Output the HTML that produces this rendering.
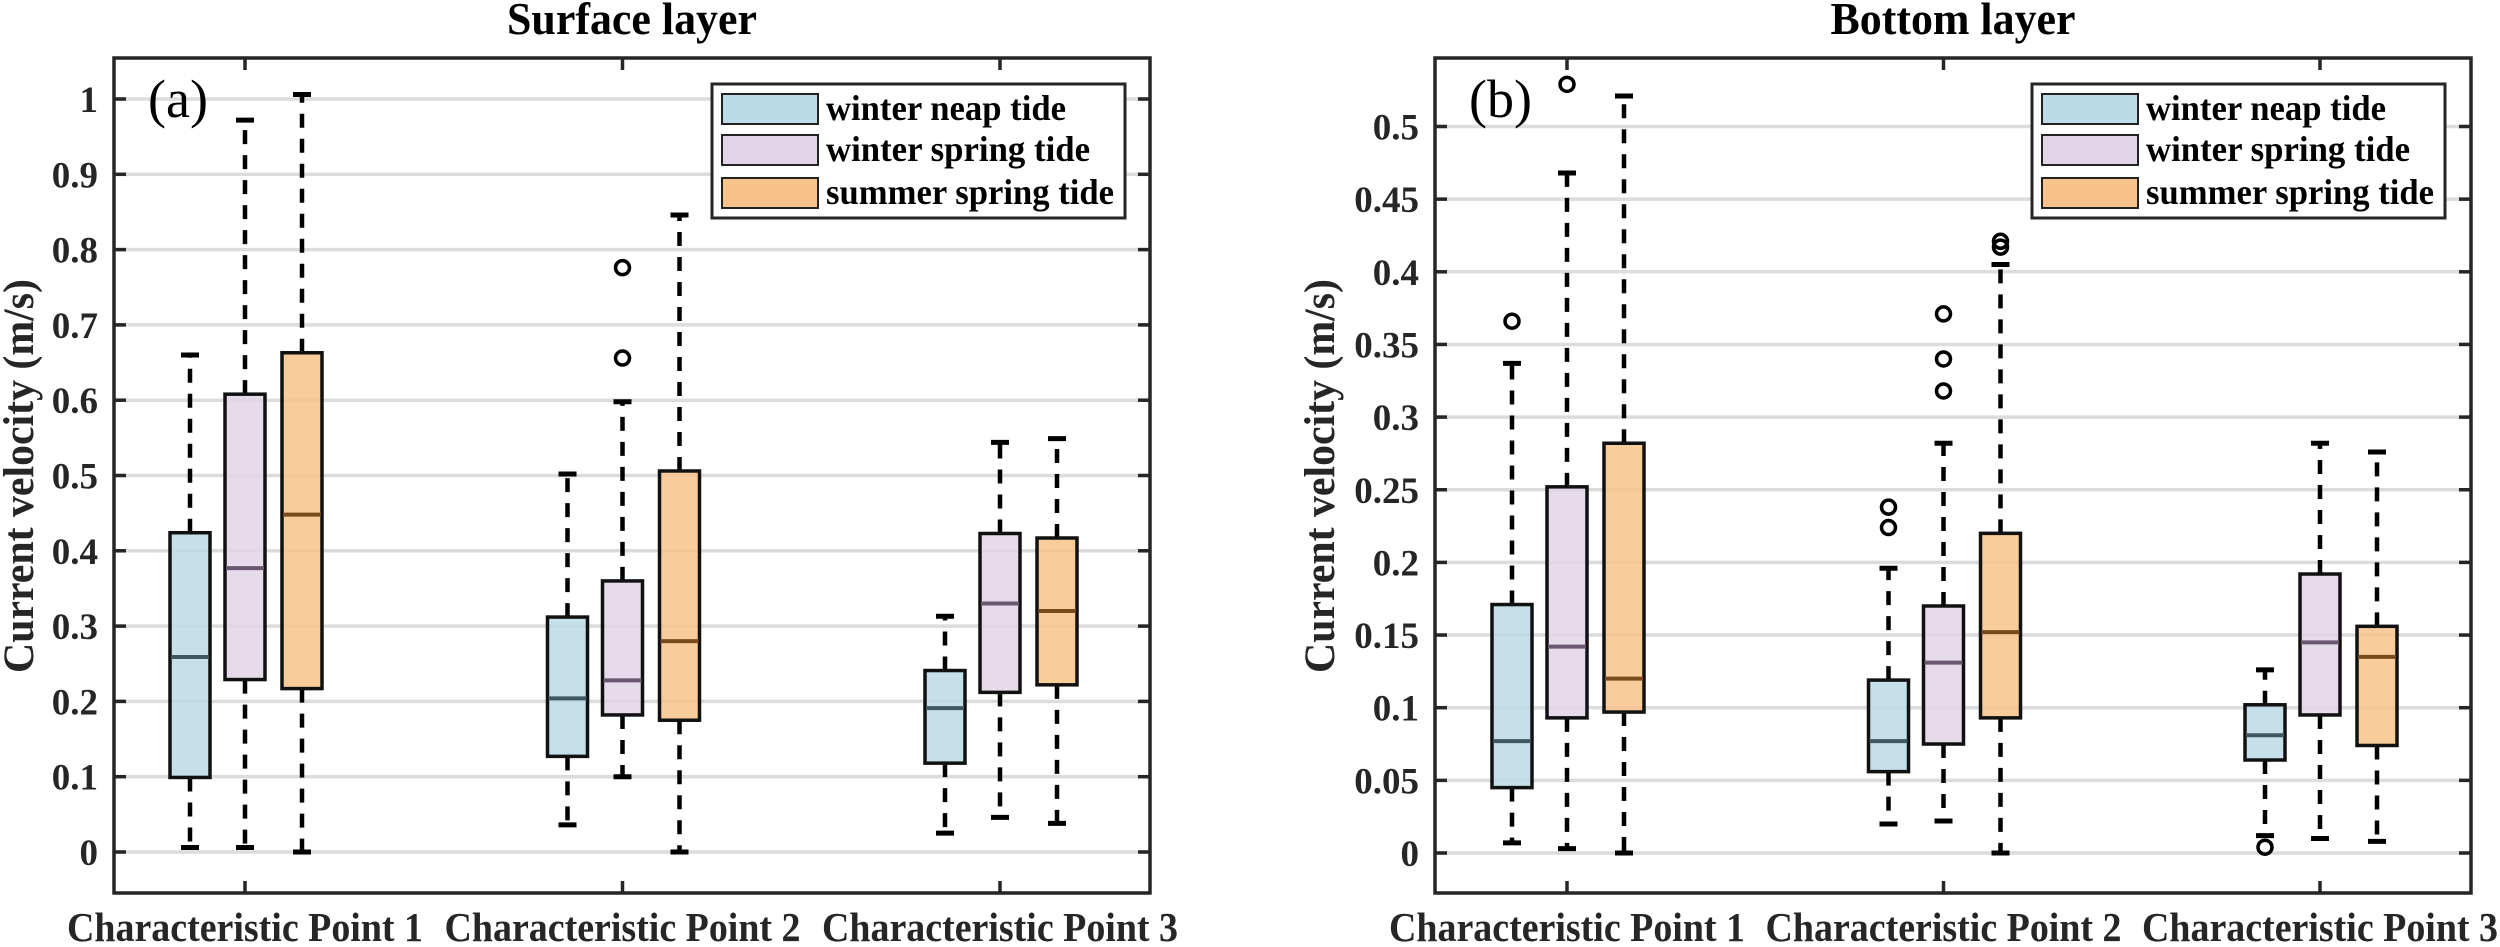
<!DOCTYPE html>
<html><head><meta charset="utf-8"><style>
html,body{margin:0;padding:0;background:#fff;}
svg{display:block;font-family:"Liberation Serif",serif;}
</style></head><body>
<svg id="fig" width="2500" height="947" viewBox="0 0 2500 947" xmlns="http://www.w3.org/2000/svg"></svg>
<script>
const categories = ["Characteristic Point 1","Characteristic Point 2","Characteristic Point 3"];
const seriesNames = ["winter neap tide","winter spring tide","summer spring tide"];
// Surface layer [low, q1, median, q3, high] per category
const surfNeap   = [[0.006,0.099,0.259,0.424,0.66],[0.036,0.127,0.204,0.312,0.502],[0.025,0.118,0.191,0.241,0.313]];
const surfWSpring= [[0.006,0.229,0.377,0.608,0.972],[0.10,0.182,0.228,0.36,0.598],[0.046,0.212,0.33,0.423,0.544]];
const surfSSpring= [[0.0,0.217,0.448,0.663,1.006],[0.0,0.175,0.28,0.506,0.846],[0.038,0.222,0.32,0.417,0.549]];
const surfOutNeap = [[],[],[]];
const surfOutWSpring = [[],[0.776,0.656],[]];
const surfOutSSpring = [[],[],[]];
// Bottom layer
const botNeap   = [[0.007,0.045,0.077,0.171,0.337],[0.02,0.056,0.077,0.119,0.196],[0.012,0.064,0.081,0.102,0.126]];
const botWSpring= [[0.003,0.093,0.142,0.252,0.468],[0.022,0.075,0.131,0.17,0.282],[0.01,0.095,0.145,0.192,0.282]];
const botSSpring= [[0.0,0.097,0.12,0.282,0.521],[0.0,0.093,0.152,0.22,0.405],[0.008,0.074,0.135,0.156,0.276]];
const botOutNeap = [[0.366],[0.238,0.224],[0.004]];
const botOutWSpring = [[0.529],[0.371,0.34,0.318],[]];
const botOutSSpring = [[],[0.421,0.417],[]];
const surfTicks = ["0","0.1","0.2","0.3","0.4","0.5","0.6","0.7","0.8","0.9","1"];
const botTicks = ["0","0.05","0.1","0.15","0.2","0.25","0.3","0.35","0.4","0.45","0.5"];

const NS="http://www.w3.org/2000/svg";
const svg=document.getElementById('fig');
function mk(tag,attrs,parent){const e=document.createElementNS(NS,tag);for(const k in attrs)e.setAttribute(k,attrs[k]);(parent||svg).appendChild(e);return e;}
const fills=["#bcdbe8","#e3d4e8","#f8c38a"];
const meds=["#3e5862","#6a566e","#7a4a1e"];

function panel(cfg){
  const g=mk('g',{});
  
  
  const L=cfg.left,R=cfg.left+1036,T=58,B=893;
  const yS=v=>cfg.y0-cfg.k*v;
  const xS=i=>cfg.cx0+i*cfg.dx;
  cfg.ticks.forEach(t=>{
    const y=yS(parseFloat(t));
    const gl=mk('line',{x1:L,x2:R,y1:y,y2:y,stroke:"#dcdcdc","stroke-width":3.5},g);
    
    
    const tk=mk('line',{x1:L,x2:L+12,y1:y,y2:y,stroke:"#262626","stroke-width":3.5},g);
    
    
    const tk2=mk('line',{x1:R,x2:R-12,y1:y,y2:y,stroke:"#262626","stroke-width":3.5},g);
    
    
    const tl=mk('text',{x:L-16,y:y+13,"text-anchor":"end","font-size":37,"font-weight":"bold",fill:"#262626"},g);
    tl.textContent=t;
    
    
  });
  categories.forEach((c,i)=>{
    const x=xS(i);
    const t1=mk('line',{x1:x,x2:x,y1:B,y2:B-12,stroke:"#262626","stroke-width":3.5},g);
    
    
    const t2=mk('line',{x1:x,x2:x,y1:T,y2:T+12,stroke:"#262626","stroke-width":3.5},g);
    
    
    const tl=mk('text',{x:x,y:941,"text-anchor":"middle","font-size":41,"font-weight":"bold",fill:"#262626",textLength:356,lengthAdjust:"spacingAndGlyphs"},g);
    tl.textContent=c;
    
    
  });
  const offs=[-55,0,57];
  cfg.series.forEach((ser,s)=>{
    ser.forEach((d,i)=>{
      const cx=xS(i)+offs[s];
      const [lo,q1,md,q3,hi]=d;
      const wl=mk('line',{x1:cx,x2:cx,y1:yS(q3),y2:yS(hi),stroke:"#000","stroke-width":4.5,"stroke-dasharray":"14 11"},g);
      
      
      const wl2=mk('line',{x1:cx,x2:cx,y1:yS(q1),y2:yS(lo),stroke:"#000","stroke-width":4.5,"stroke-dasharray":"14 11"},g);
      
      
      [lo,hi].forEach(v=>{
        const cp=mk('line',{x1:cx-9,x2:cx+9,y1:yS(v),y2:yS(v),stroke:"#000","stroke-width":5},g);
        
        
      });
      const bx=mk('rect',{x:cx-20,y:yS(q3),width:40,height:yS(q1)-yS(q3),fill:fills[s],"fill-opacity":0.85,stroke:"#111","stroke-width":3.5},g);
      
      
      const ml=mk('line',{x1:cx-19,x2:cx+19,y1:yS(md),y2:yS(md),stroke:meds[s],"stroke-width":4},g);
      
      
      cfg.outs[s][i].forEach(v=>{
        const o=mk('circle',{cx:cx,cy:yS(v),r:7,fill:"none",stroke:"#000","stroke-width":3.5},g);
        
        
      });
    });
  });
  const ax=mk('rect',{x:L,y:T,width:R-L,height:B-T,fill:"none",stroke:"#262626","stroke-width":3.5},g);
  
  
  const ttl=mk('text',{x:(L+R)/2,y:34,"text-anchor":"middle","font-size":46,"font-weight":"bold",fill:"#000",textLength:cfg.titleLen,lengthAdjust:"spacingAndGlyphs"},g);
  ttl.textContent=cfg.title;
  
  
  const pl=mk('text',{x:L+34,y:117,"font-size":54,fill:"#000"},g);
  pl.textContent=cfg.label;
  
  
  const yl=mk('text',{x:0,y:0,"text-anchor":"middle","font-size":43,"font-weight":"bold",fill:"#262626",textLength:394,lengthAdjust:"spacingAndGlyphs",transform:`translate(${cfg.ylx},476) rotate(-90)`},g);
  yl.textContent="Current velocity (m/s)";
  
  
  const lx=cfg.legX;
  const lg=mk('g',{},g);
  
  
  const lb=mk('rect',{x:lx,y:84,width:413,height:134,fill:"#fff",stroke:"#262626","stroke-width":3},lg);
  
  
  const rows=[109,150,193],tl=[240,264,288];
  seriesNames.forEach((n,s)=>{
    const pr=mk('rect',{x:lx+10,y:rows[s]-15,width:96,height:30,fill:fills[s],stroke:"#222","stroke-width":2},lg);
    
    
    const tx=mk('text',{x:lx+114,y:rows[s]+11,"font-size":36,"font-weight":"bold",fill:"#000",textLength:tl[s],lengthAdjust:"spacingAndGlyphs"},lg);
    tx.textContent=n;
    
    
  });
}
panel({name:'surface-panel',title:'Surface layer',titleLen:250,label:'(a)',left:114,y0:852,k:753,cx0:245,dx:377.5,ticks:surfTicks,
  series:[surfNeap,surfWSpring,surfSSpring],outs:[surfOutNeap,surfOutWSpring,surfOutSSpring],ylx:33,legX:712});
panel({name:'bottom-panel',title:'Bottom layer',titleLen:245,label:'(b)',left:1435,y0:853,k:1453,cx0:1567,dx:376.5,ticks:botTicks,
  series:[botNeap,botWSpring,botSSpring],outs:[botOutNeap,botOutWSpring,botOutSSpring],ylx:1334,legX:2032});
</script>
</body></html>
